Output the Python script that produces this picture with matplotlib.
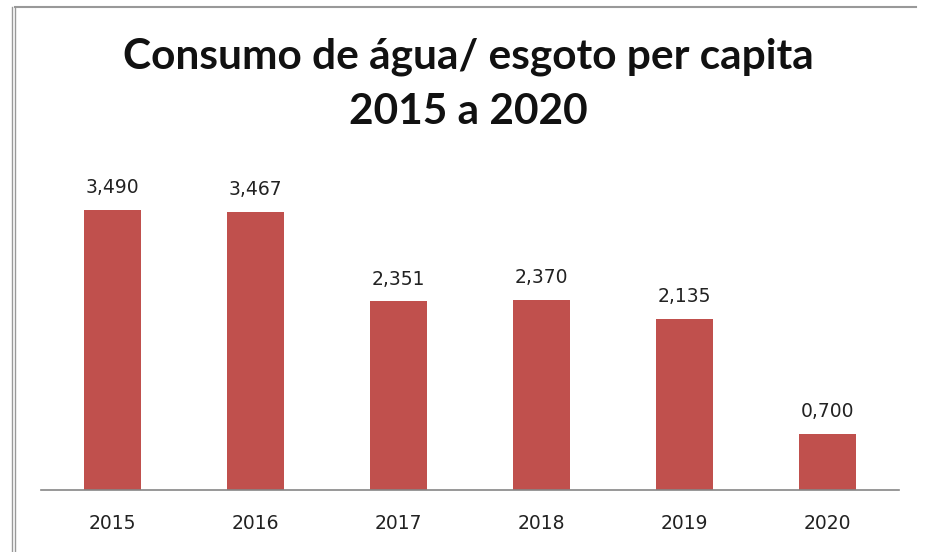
import matplotlib
matplotlib.use("Agg")
import matplotlib.pyplot as plt
from matplotlib.lines import Line2D

# data
years = ["2015", "2016", "2017", "2018", "2019", "2020"]
valores = [3.490, 3.467, 2.351, 2.370, 2.135, 0.700]
rotulos = ["3,490", "3,467", "2,351", "2,370", "2,135", "0,700"]

W, H = 925, 552
fig = plt.figure(figsize=(W / 100, H / 100), dpi=100)
ax = fig.add_axes([41 / W, (H - 490) / H, (899 - 41) / W, 321 / H])

x = range(len(years))
bars = ax.bar(x, valores, width=0.405, color="#C0504D")
ax.set_xlim(-0.5, len(years) - 0.5)
ax.set_ylim(0, 4.0)

for b, t in zip(bars, rotulos):
    ax.annotate(t, (b.get_x() + b.get_width() / 2, b.get_height()),
                xytext=(0, 9), textcoords="offset points",
                ha="center", va="bottom", fontsize=13.5, color="#222222")

ax.set_xticks(list(x))
ax.set_xticklabels(years, fontsize=13.5, color="#222222")
ax.tick_params(axis="x", length=0, pad=17)
ax.set_yticks([])
for s in ["top", "left", "right"]:
    ax.spines[s].set_visible(False)
ax.spines["bottom"].set_color("#868686")
ax.spines["bottom"].set_linewidth(1.2)

# title (two lines)
fig.text(468 / W, 1 - 69 / H, "Consumo de água/ esgoto per capita",
         ha="center", va="baseline", fontsize=30.5, fontweight="bold",
         family="Lato", color="#111111")
fig.text(468 / W, 1 - 124 / H, "2015 a 2020",
         ha="center", va="baseline", fontsize=30.5, fontweight="bold",
         family="Lato", color="#111111")

# outer border lines
for xx in (12, 14.5):
    fig.add_artist(Line2D([xx / W, xx / W], [0, 1 - 7 / H],
                          color="#999999", lw=1.0, transform=fig.transFigure))
fig.add_artist(Line2D([14.5 / W, 916 / W], [1 - 7 / H, 1 - 7 / H],
                      color="#999999", lw=1.5, transform=fig.transFigure))

fig.savefig("out.png", dpi=100)
